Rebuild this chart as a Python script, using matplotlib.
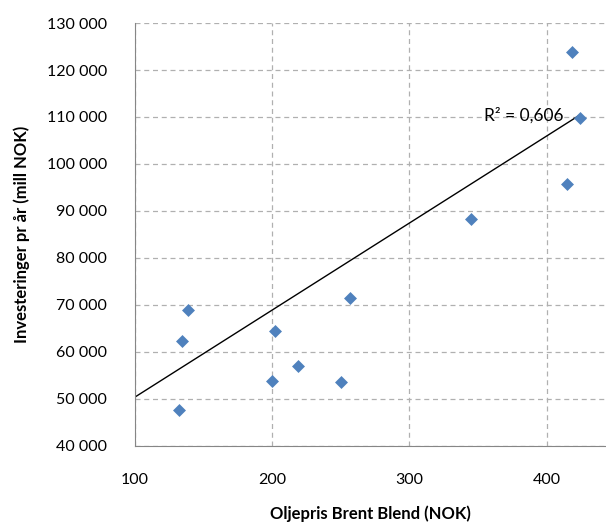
import numpy as np
import matplotlib
matplotlib.use("Agg")
import matplotlib.pyplot as plt
from matplotlib.ticker import FuncFormatter

plt.rcParams['font.family'] = ['Lato', 'DejaVu Sans']

# oljepris (NOK) og investeringer (mill NOK)
oljepris = [139.1, 134.7, 132.3, 202.3, 199.7, 218.8, 256.6, 249.9, 418.5, 423.8, 414.4, 344.6]
investeringer = [69000, 62400, 47700, 64400, 53800, 57000, 71500, 53600, 123800, 109700, 95800, 88300]
# trendlinje slik den er tegnet i originalen
trend_slope = 185.6
trend_intercept = 31740
r2_label = "R² = 0,606"

x = np.array(oljepris)
y = np.array(investeringer)

fig = plt.figure(figsize=(6.06, 5.24), dpi=100)
ax = fig.add_axes([0.222, 0.1494, 0.778, 0.8066])

ax.scatter(x, y, marker='D', s=6.6**2, color='#4F81BD', zorder=3, linewidths=0)
xl = np.array([100, x.max()])
ax.plot(xl, trend_slope * xl + trend_intercept, color='black', lw=1, zorder=2)
ax.text(x.max() - 11.5, trend_slope * x.max() + trend_intercept, r2_label,
        ha='right', va='center', fontsize=12.5)

ax.set_xlim(100, 443)
ax.set_ylim(40000, 130000)
ax.set_xticks([100, 200, 300, 400])
ax.set_yticks(np.arange(40000, 130001, 10000))
ax.yaxis.set_major_formatter(FuncFormatter(lambda v, p: f"{int(v):,}".replace(",", " ")))

ax.grid(True, linestyle=(0, (4, 3)), color='#b0b0b0', lw=0.9)
ax.set_axisbelow(True)
for s in ['top', 'right']:
    ax.spines[s].set_visible(False)
for s in ['left', 'bottom']:
    ax.spines[s].set_color('#868686')
ax.tick_params(length=0, labelsize=11.5, pad=20)
ax.tick_params(axis='y', pad=20)

ax.set_xlabel("Oljepris Brent Blend (NOK)", fontsize=12, fontweight='bold', labelpad=13)
ax.set_ylabel("Investeringer pr år (mill NOK)", fontsize=12, fontweight='bold', labelpad=12)

fig.savefig("out.png", dpi=100)
